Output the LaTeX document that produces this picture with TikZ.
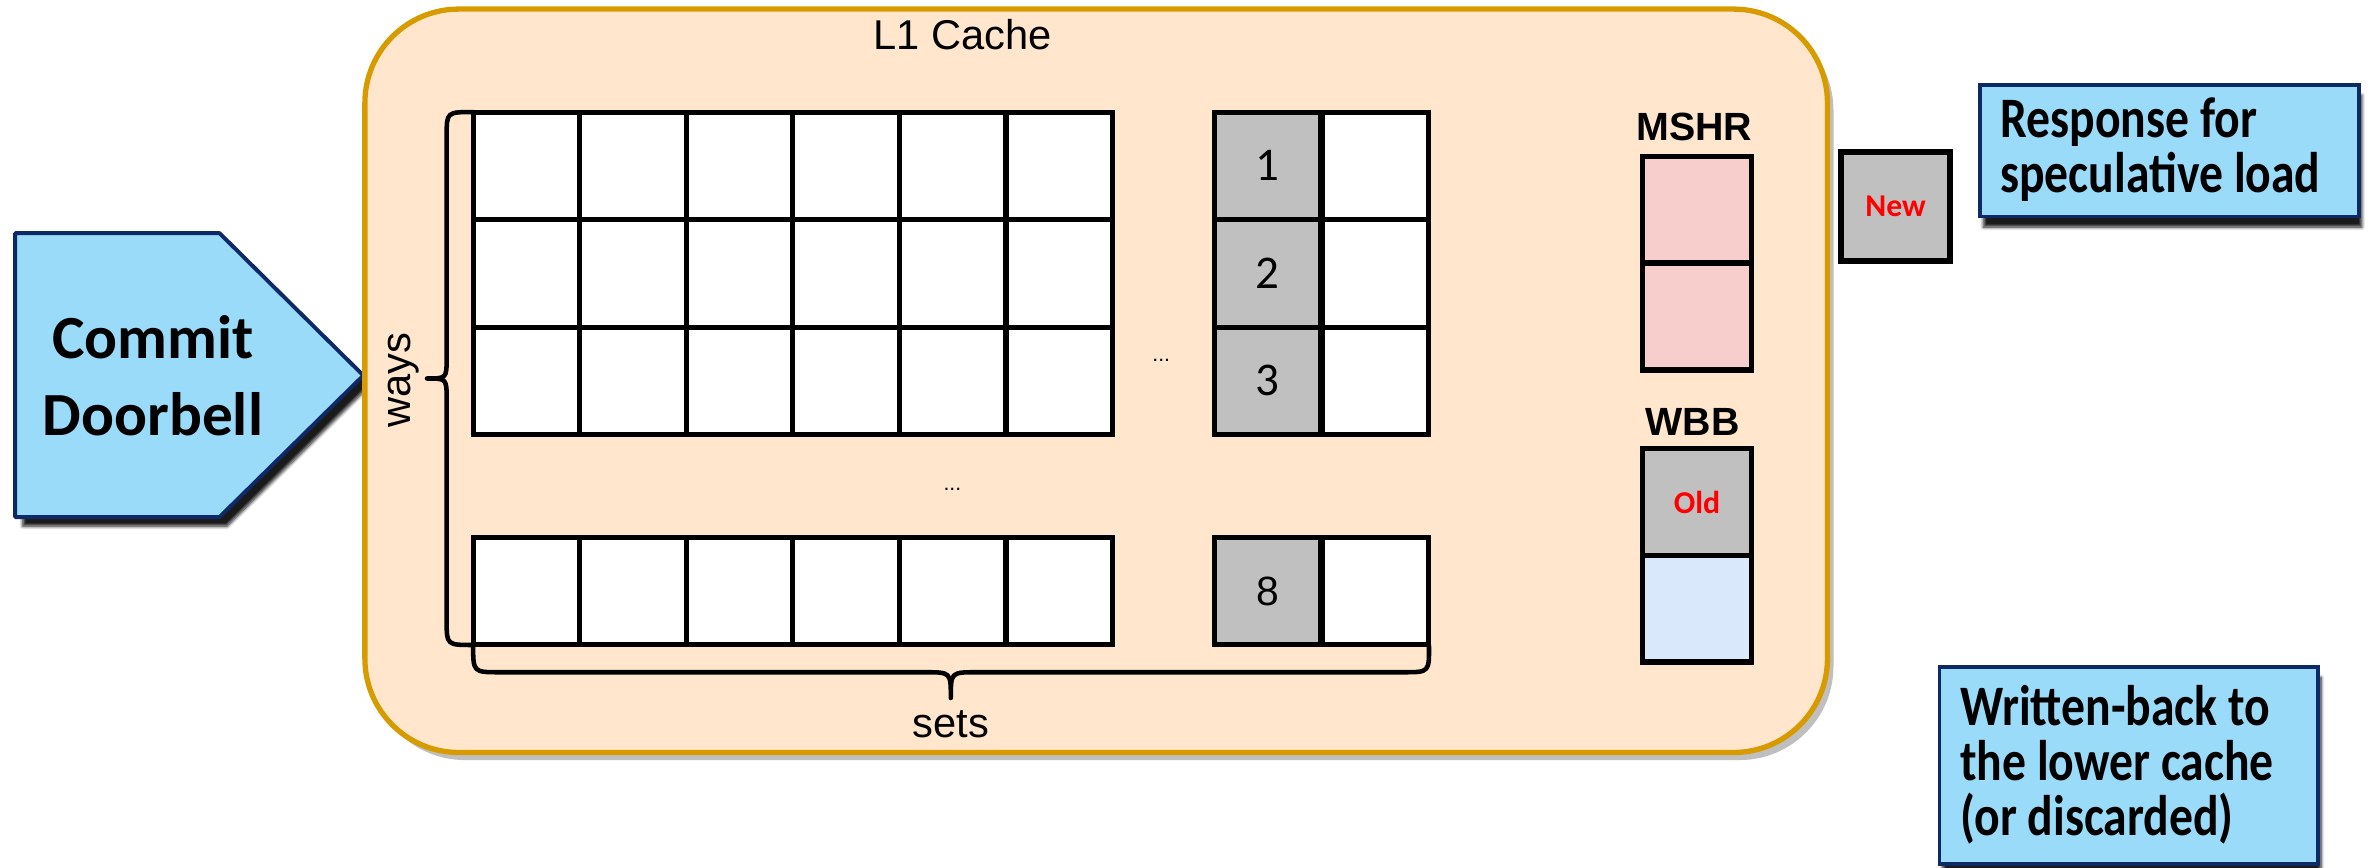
\documentclass[tikz,border=0pt]{standalone}
\usepackage{fontspec}
\setmainfont{Liberation Sans}
\newfontfamily\calf{Carlito}
\newfontfamily\calfn[FakeStretch=0.833]{Carlito}
\usetikzlibrary{shadows,shadows.blur}
\definecolor{cachefill}{HTML}{FFE6CC}
\definecolor{cachedraw}{HTML}{D79B00}
\definecolor{callfill}{HTML}{99DBF8}
\definecolor{calldraw}{HTML}{0E2A66}
\definecolor{cellgray}{HTML}{C0C0C0}
\definecolor{mshrfill}{HTML}{F8CECC}
\definecolor{wbbfill}{HTML}{DAE8FC}
\definecolor{redtxt}{HTML}{FF0000}
\tikzset{
  cell/.style={draw=black, line width=3.3pt, fill=white, minimum width=70.3pt, minimum height=71pt, inner sep=0pt, outer sep=0pt, anchor=north west},
  graycell/.style={cell, fill=cellgray},
  bufcell/.style={draw=black, line width=3.6pt, minimum width=72pt, minimum height=70.5pt, inner sep=0pt, anchor=north west},
  callout/.style={draw=calldraw, line width=2.6pt, fill=callfill, inner sep=0pt,
     blur shadow={shadow xshift=2pt, shadow yshift=-7pt, shadow blur steps=6, shadow opacity=90}},
  bracepath/.style={line width=3pt, line cap=round, line join=round},
  regtxt/.style={font=\fontsize{27.5}{30}\selectfont, inner sep=0pt},
  boldlbl/.style={font=\bfseries\fontsize{26}{30}\selectfont, inner sep=0pt},
  calltxt/.style={font=\calfn\bfseries\fontsize{37.8}{36.3}\selectfont, align=left, anchor=base west, inner sep=0pt},
  redlbl/.style={font=\calf\bfseries\fontsize{21}{23}\selectfont, text=redtxt},
  dots/.style={font=\fontsize{14}{16}\selectfont, inner sep=0pt}
}
\begin{document}
\begin{tikzpicture}[x=1pt,y=-1pt]
\useasboundingbox (0,0) rectangle (1568,573);

% Commit doorbell pentagon
\draw[line width=2.6pt, draw=calldraw, fill=callfill, line join=round,
  blur shadow={shadow xshift=5pt, shadow yshift=-6pt, shadow blur steps=6, shadow opacity=90}]
  (10,154) -- (145,154) -- (240,248) -- (145,341.5) -- (10,341.5) -- cycle;
\node[font=\calf\bfseries\fontsize{40.5}{51}\selectfont, align=center, inner sep=0pt, anchor=base] (commit) at (101,287.5) {Commit\\Doorbell};

% L1 cache box
\node[draw=cachedraw, fill=cachefill, line width=3.5pt, rounded corners=62pt,
  minimum width=966pt, minimum height=491pt, inner sep=0pt,
  drop shadow={shadow xshift=4pt, shadow yshift=-5pt, fill=black!25, opacity=1}] (l1) at (724,251.5) {};
\node[regtxt, anchor=base] (l1lbl) at (635.7,33) {L1 Cache};

% main grid (3 rows)
\foreach \r/\y in {0/74,1/145,2/216}{
  \foreach \c in {0,...,5}{
    \node[cell] (m\r\c) at ({312.5+70.4*\c},\y) {};
  }
  \node[graycell] (g\r) at (802,\y) {};
  \node[cell] (w\r) at (873.5,\y) {};
}
% bottom row
\foreach \c in {0,...,5}{
  \node[cell] (b\c) at ({312.5+70.4*\c},355) {};
}
\node[graycell] (gb) at (802,355) {};
\node[cell] (wb) at (873.5,355) {};

\node[font=\calf\fontsize{31}{33}\selectfont] (n1) at (g0.center) {1};
\node[font=\calf\fontsize{31}{33}\selectfont] (n2) at (g1.center) {2};
\node[font=\calf\fontsize{31}{33}\selectfont] (n3) at (g2.center) {3};
\node[font=\fontsize{27}{30}\selectfont] (n8) at (gb.center) {8};

\node[dots] (dotsA) at (767,238) {...};
\node[dots] (dotsB) at (629,323) {...};

% ways brace
\draw[bracepath] (m00.north west) .. controls (295,74) .. (295,90) -- (295,236)
  .. controls (295,250) .. (282,250) .. controls (295,250) .. (295,264) -- (295,410)
  .. controls (295,426) .. (b0.south west);
\node[regtxt, rotate=90, anchor=base] (ways) at (270.8,251) {ways};

% sets brace
\draw[bracepath] (b0.south west) .. controls (312.5,444) .. (330,444) -- (611,444)
  .. controls (628,444) .. (628,461) .. controls (628,444) .. (645,444) -- (927,444)
  .. controls (944,444) .. (wb.south east);
\node[regtxt, anchor=base] (sets) at (628,487) {sets};

% MSHR
\node[boldlbl, anchor=base] (mshrlbl) at (1119,92.5) {MSHR};
\node[bufcell, fill=mshrfill] (ms1) at (1083,101.5) {};
\node[bufcell, fill=mshrfill] (ms2) at (1083,172) {};

% WBB
\node[boldlbl, anchor=base] (wbblbl) at (1118,287.4) {WBB};
\node[bufcell, fill=cellgray, redlbl] (old) at (1083,294.5) {Old};
\node[bufcell, fill=wbbfill] (wb2) at (1083,365) {};

% New box
\node[draw=black, line width=3.6pt, fill=cellgray, minimum width=72pt, minimum height=72pt, inner sep=0pt, redlbl] (new) at (1252,136.3) {New};

% callouts
\node[callout, minimum width=250pt, minimum height=87pt] (resp) at (1433,99.5) {};
\node[calltxt] (resptxt) at (1321,127) {Response for\\speculative load};

\node[callout, minimum width=250pt, minimum height=130pt] (wback) at (1406,505.5) {};
\node[calltxt] (wbtxt) at (1294.5,551.5) {Written-back to\\the lower cache\\(or discarded)};
\end{tikzpicture}
\end{document}
